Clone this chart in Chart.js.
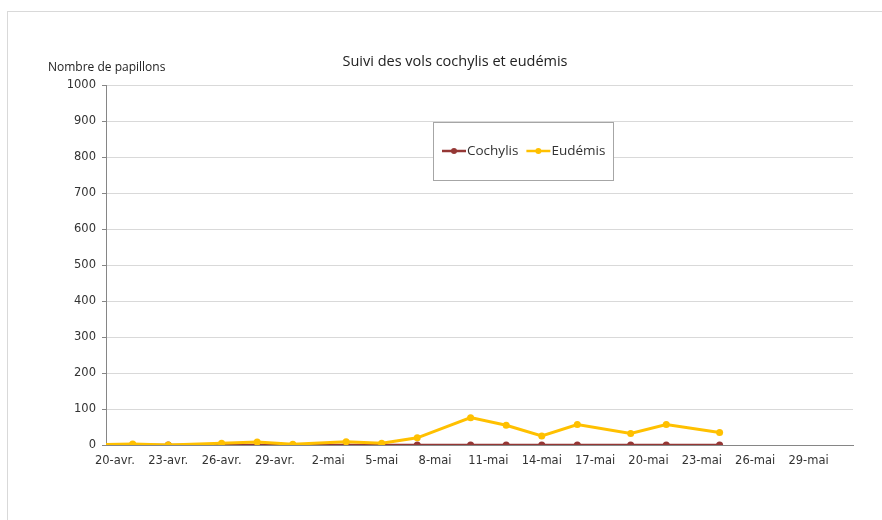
<!DOCTYPE html>
<html>
<head>
<meta charset="utf-8">
<script src="https://cdn.jsdelivr.net/npm/chart.js@4"></script>
<style>
  html, body { margin: 0; padding: 0; background: #fff; }
  #wrap { width: 882px; height: 520px; position: relative; }
</style>
</head>
<body>
<div id="wrap"><canvas id="volsChart" width="882" height="520"></canvas></div>
<script>
// Relevés (mois-jour)
var dates = ["04-18", "04-21", "04-23", "04-26", "04-28", "04-30", "05-03", "05-05",
  "05-07", "05-10", "05-12", "05-14", "05-16", "05-19", "05-21", "05-24"];
var cochylis = [0, 0, 0, 0, 0, 0, 0, 0, 0, 0, 0, 0, 0, 0, 0, 0];
var eudemis = [0, 3, 0, 5, 8, 2, 9, 5, 20, 76, 55, 25, 57, 32, 57, 35];

var tickLabels = ["20-avr.", "23-avr.", "26-avr.", "29-avr.", "2-mai", "5-mai", "8-mai",
  "11-mai", "14-mai", "17-mai", "20-mai", "23-mai", "26-mai", "29-mai"];
var yTicks = [0, 100, 200, 300, 400, 500, 600, 700, 800, 900, 1000];

// jours depuis le 20 avril
function dayIndex(s) {
  var p = s.split("-");
  var t = Date.UTC(2020, parseInt(p[0], 10) - 1, parseInt(p[1], 10));
  return Math.round((t - Date.UTC(2020, 3, 20)) / 86400000);
}

function toPoints(values) {
  var pts = [];
  for (var i = 0; i < dates.length; i++) {
    pts.push({ x: dayIndex(dates[i]), y: values[i] });
  }
  return pts;
}

var tickDays = tickLabels.map(function (l, i) { return i * 3; });

var frameAndTexts = {
  id: "frameAndTexts",
  beforeDraw: function (chart) {
    var c = chart.ctx;
    c.save();
    c.strokeStyle = "#d9d9d9";
    c.lineWidth = 1;
    c.strokeRect(7.5, 11.5, 900, 600);
    c.fillStyle = "#222";
    c.textBaseline = "middle";
    c.font = "14.5px 'Open Sans', 'Liberation Sans', sans-serif";
    c.textAlign = "center";
    c.fillText("Suivi des vols cochylis et eudémis", 455, 62);
    c.font = "12px 'Open Sans', 'Liberation Sans', sans-serif";
    c.textAlign = "left";
    c.fillText("Nombre de papillons", 48, 68);
    c.restore();
  },
  afterDraw: function (chart) {
    var c = chart.ctx;
    var ds = chart.data.datasets;
    c.save();
    c.fillStyle = "#fff";
    c.fillRect(433, 122, 180, 58);
    c.strokeStyle = "#a6a6a6";
    c.lineWidth = 1;
    c.strokeRect(433.5, 122.5, 180, 58);
    var x = 442, y = 151;
    c.font = "13.5px 'Open Sans', 'Liberation Sans', sans-serif";
    c.textBaseline = "middle";
    c.textAlign = "left";
    for (var i = 0; i < ds.length; i++) {
      c.strokeStyle = ds[i].borderColor;
      c.lineWidth = 2.5;
      c.beginPath();
      c.moveTo(x, y);
      c.lineTo(x + 24, y);
      c.stroke();
      c.fillStyle = ds[i].borderColor;
      c.beginPath();
      c.arc(x + 12, y, 3, 0, Math.PI * 2);
      c.fill();
      c.fillStyle = "#333";
      c.fillText(ds[i].label, x + 25, y);
      x += 25 + c.measureText(ds[i].label).width + 8;
    }
    c.restore();
  }
};

var ctx = document.getElementById("volsChart").getContext("2d");
var volsChart = new Chart(ctx, {
  type: "line",
  data: {
    datasets: [
      {
        label: "Cochylis",
        data: toPoints(cochylis),
        borderColor: "#953735",
        backgroundColor: "#953735",
        borderWidth: 2.5,
        pointRadius: 3.5,
        pointBorderWidth: 0,
        pointHoverRadius: 3.5,
        tension: 0,
        order: 1,
      },
      {
        label: "Eudémis",
        data: toPoints(eudemis),
        borderColor: "#ffc000",
        backgroundColor: "#ffc000",
        borderWidth: 3,
        pointRadius: 3.5,
        pointBorderWidth: 0,
        pointHoverRadius: 3.5,
        tension: 0,
        order: 0,
      },
    ],
  },
  options: {
    responsive: false,
    animation: false,
    layout: { padding: { left: 0, right: 29, top: 85, bottom: 0 } },
    plugins: { legend: { display: false }, title: { display: false }, tooltip: { enabled: false } },
    scales: {
      x: {
        type: "linear",
        min: -0.5,
        max: 41.5,
        afterBuildTicks: function (scale) {
          scale.ticks = tickDays.map(function (v) { return { value: v }; });
        },
        afterFit: function (scale) { scale.height = 75; },
        grid: { display: false, drawTicks: false },
        border: { color: "#868686", width: 1 },
        ticks: {
          autoSkip: false,
          maxRotation: 0,
          padding: 9,
          color: "#333",
          font: { family: "'DejaVu Sans', Verdana, sans-serif", size: 11.5 },
          callback: function (v) {
            var i = tickDays.indexOf(v);
            return i >= 0 ? tickLabels[i] : "";
          },
        },
      },
      y: {
        min: 0,
        max: 1000,
        afterBuildTicks: function (scale) {
          scale.ticks = yTicks.map(function (v) { return { value: v }; });
        },
        afterFit: function (scale) { scale.width = 106; },
        grid: { color: "#d9d9d9", lineWidth: 1, tickLength: 4, tickColor: "#868686" },
        border: { color: "#868686", width: 1 },
        ticks: {
          padding: 6,
          color: "#333",
          font: { family: "'DejaVu Sans', Verdana, sans-serif", size: 11.5 },
          callback: function (v) { return String(v); },
        },
      },
    },
  },
  plugins: [frameAndTexts],
});
</script>
</body>
</html>
